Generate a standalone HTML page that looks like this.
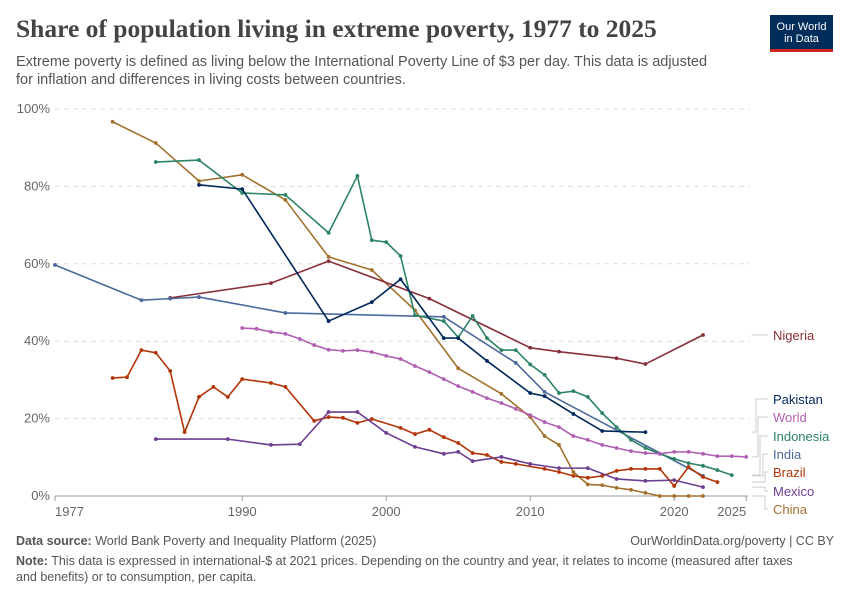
<!DOCTYPE html>
<html><head><meta charset="utf-8"><style>
body{margin:0;background:#fff;font-family:"Liberation Sans",sans-serif;}
#wrap{position:relative;width:850px;height:600px;overflow:hidden;}
.t{position:absolute;}
</style></head><body>
<div id="wrap">
<div class="t" style="left:16px;top:14px;font-family:'Liberation Serif',serif;font-size:25.5px;font-weight:bold;color:#444;">Share of population living in extreme poverty, 1977 to 2025</div>
<div class="t" style="left:16px;top:53px;width:705px;font-size:14.5px;line-height:18px;color:#555;">Extreme poverty is defined as living below the International Poverty Line of $3 per day. This data is adjusted for inflation and differences in living costs between countries.</div>
<div class="t" style="left:770px;top:15px;width:63px;height:37px;background:#002d5a;border-bottom:3px solid #ce261e;box-sizing:border-box;color:#fff;font-size:11px;line-height:12px;text-align:center;padding-top:6px;">Our World<br>in Data</div>
<svg id="chart" width="850" height="600" style="position:absolute;left:0;top:0"></svg>
<div class="t" style="left:16px;top:534px;font-size:12.5px;color:#555;"><b>Data source:</b> World Bank Poverty and Inequality Platform (2025)</div>
<div class="t" style="right:16px;top:534px;font-size:12.5px;color:#555;">OurWorldinData.org/poverty | CC BY</div>
<div class="t" style="left:16px;top:553px;width:800px;font-size:12.5px;line-height:16px;color:#555;"><b>Note:</b> This data is expressed in international-$ at 2021 prices. Depending on the country and year, it relates to income (measured after taxes and benefits) or to consumption, per capita.</div>
</div>
<script>
const yTicks=[0,20,40,60,80,100];
const xTicks=[1977,1990,2000,2010,2020,2025];
const chinaYears=[1981,1984,1987,1990,1993,1996,1999,2002,2005,2008,2010,2011,2012,2013,2014,2015,2016,2017,2018,2019,2020,2021,2022];
const chinaVals=[96.7,91.2,81.4,83,76.5,61.8,58.4,48,33,26.4,20.4,15.5,13.2,6.2,3,2.8,2.1,1.6,0.8,0,0,0,0];
const nigeriaYears=[1985,1992,1996,2003,2010,2012,2016,2018,2022];
const nigeriaVals=[51.2,55,60.7,51,38.3,37.3,35.6,34.1,41.6];
const pakistanYears=[1987,1990,1996,1999,2001,2004,2005,2007,2010,2011,2013,2015,2018];
const pakistanVals=[80.4,79.3,45.2,50.1,56,40.8,40.8,34.9,26.6,25.8,21.2,16.8,16.5];
const indiaYears=[1977,1983,1985,1987,1993,2004,2009,2011,2022];
const indiaVals=[59.7,50.6,51,51.4,47.3,46.3,34.4,26.9,5.2];
const indonesiaYears=[1984,1987,1990,1993,1996,1998,1999,2000,2001,2002,2004,2005,2006,2007,2008,2009,2010,2011,2012,2013,2014,2015,2016,2017,2018,2019,2020,2021,2022,2023,2024];
const indonesiaVals=[86.3,86.8,78.3,77.8,68,82.7,66.1,65.6,62,46.7,45.2,41,46.5,40.8,37.7,37.7,34,31.3,26.6,27.1,25.6,21.4,17.8,14.5,12.4,10.9,9.6,8.5,7.8,6.7,5.4];
const worldYears=[1990,1991,1992,1993,1994,1995,1996,1997,1998,1999,2000,2001,2002,2003,2004,2005,2006,2007,2008,2009,2010,2011,2012,2013,2014,2015,2016,2017,2018,2019,2020,2021,2022,2023,2024,2025];
const worldVals=[43.4,43.2,42.4,41.9,40.6,39,37.8,37.5,37.7,37.2,36.2,35.4,33.6,32,30.2,28.4,26.9,25.3,24,22.5,20.9,19.1,17.8,15.5,14.5,13.2,12.4,11.6,11.1,10.9,11.4,11.4,10.9,10.3,10.3,10.1];
const brazilYears=[1981,1982,1983,1984,1985,1986,1987,1988,1989,1990,1992,1993,1995,1996,1997,1998,1999,2001,2002,2003,2004,2005,2006,2007,2008,2009,2011,2012,2013,2014,2015,2016,2017,2018,2019,2020,2021,2022,2023];
const brazilVals=[30.5,30.7,37.7,37,32.3,16.5,25.6,28.2,25.6,30.2,29.2,28.2,19.4,20.4,20.2,18.9,19.9,17.6,16,17.1,15.2,13.7,11.1,10.6,8.8,8.3,7,6.2,5.2,4.7,5.2,6.5,7,7,7,2.6,7.5,4.9,3.6];
const mexicoYears=[1984,1989,1992,1994,1996,1998,2000,2002,2004,2005,2006,2008,2010,2012,2014,2016,2018,2020,2022];
const mexicoVals=[14.7,14.7,13.2,13.4,21.7,21.7,16.3,12.7,10.9,11.4,9,10.1,8.3,7.2,7.2,4.4,3.9,4.1,2.3];

const NS="http://www.w3.org/2000/svg";
const svg=document.getElementById('chart');
const X=yr=>55+(yr-1977)*14.4;
const Y=v=>496-v*3.87;
function mk(tag,attrs){const e=document.createElementNS(NS,tag);for(const k in attrs)e.setAttribute(k,attrs[k]);svg.appendChild(e);return e;}
yTicks.forEach(t=>{
  if(t>0){const g=mk('line',{x1:55,x2:750,y1:Y(t),y2:Y(t),stroke:'#ddd','stroke-dasharray':'5,4'});
  
  }
  const l=mk('text',{x:50,y:Y(t)+4,'text-anchor':'end','font-size':13,fill:'#666','font-family':'Liberation Sans,sans-serif'});
  l.textContent=t+'%';
  
  
});
const ax=mk('line',{x1:55,x2:748,y1:496,y2:496,stroke:'#999'});


xTicks.forEach((t,i)=>{
  mk('line',{x1:X(t),x2:X(t),y1:496,y2:501,stroke:'#999'});
  const anchor=i==0?'start':(i==xTicks.length-1?'end':'middle');
  const l=mk('text',{x:X(t),y:516,'text-anchor':anchor,'font-size':13,fill:'#666','font-family':'Liberation Sans,sans-serif'});
  l.textContent=t;
  
  
});
const series=[
 ['china',chinaYears,chinaVals,'#a2712e','China',514],
 ['nigeria',nigeriaYears,nigeriaVals,'#883039','Nigeria',340],
 ['india',indiaYears,indiaVals,'#4c6a9c','India',459],
 ['indonesia',indonesiaYears,indonesiaVals,'#2c8465','Indonesia',441],
 ['pakistan',pakistanYears,pakistanVals,'#00295b','Pakistan',404],
 ['world',worldYears,worldVals,'#b15fb3','World',422],
 ['brazil',brazilYears,brazilVals,'#b13507','Brazil',477],
 ['mexico',mexicoYears,mexicoVals,'#6d3e91','Mexico',496]
];
const bend={nigeria:752,pakistan:756,world:758,indonesia:760,india:763,brazil:765,mexico:765,china:765};
series.forEach(([id,ys,vs,c,name,ly])=>{
  const pts=ys.map((y,i)=>X(y)+','+Y(vs[i])).join(' ');
  const p=mk('polyline',{points:pts,fill:'none',stroke:c,'stroke-width':1.6,'stroke-linejoin':'round'});
  
  
  ys.forEach((y,i)=>{const d=mk('circle',{cx:X(y),cy:Y(vs[i]),r:1.9,fill:c});
    
    });
  const ey=Y(vs[vs.length-1]);
  const bx=bend[id];
  mk('polyline',{points:`752,${ey} ${bx},${ey} ${bx},${ly-5} 768,${ly-5}`,fill:'none',stroke:'#ccc','stroke-width':1});
  const t=mk('text',{x:773,y:ly,'font-size':13,fill:c,'font-family':'Liberation Sans,sans-serif'});
  t.textContent=name;
  
  
});
</script>
</body></html>
